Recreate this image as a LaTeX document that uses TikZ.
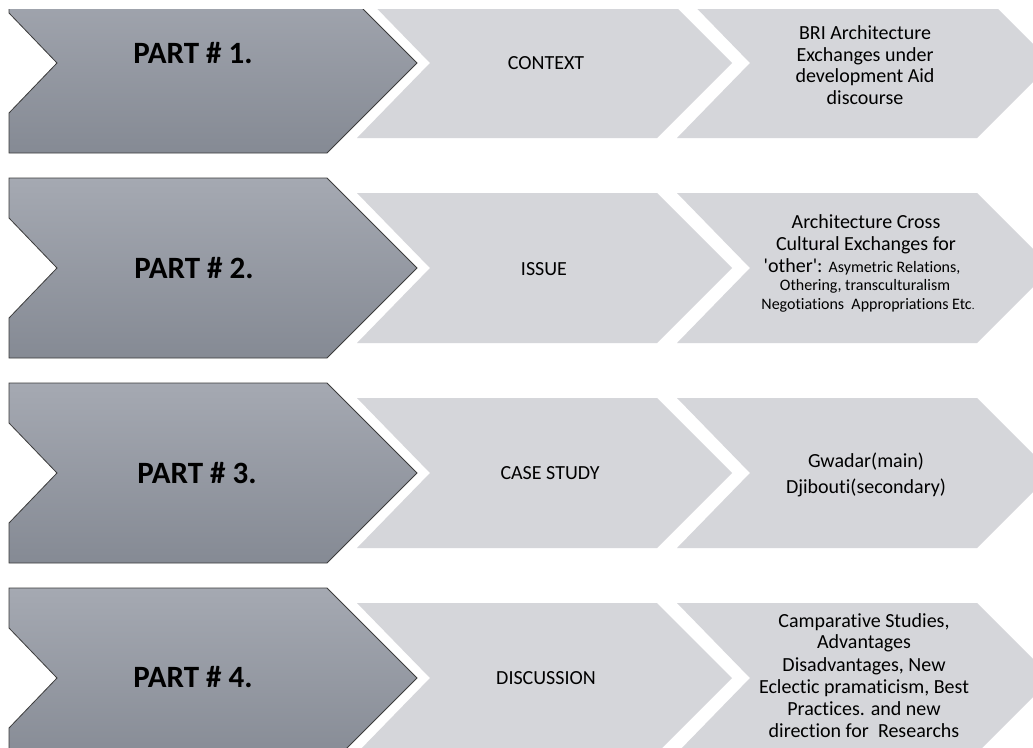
\documentclass[tikz,border=0pt]{standalone}
\usepackage{fontspec}
\newfontfamily\calfont[Ligatures=NoCommon]{Carlito}
\definecolor{darktop}{HTML}{A5A9B2}
\definecolor{darkbot}{HTML}{858A94}
\definecolor{lightfill}{HTML}{D5D6DA}
\definecolor{edgecol}{HTML}{3C3C3C}
\tikzset{
  partchev/.style={draw=edgecol, line width=0.8pt, line join=miter, top color=darktop, bottom color=darkbot},
  infochev/.style={fill=lightfill, draw=none},
  parttext/.style={font=\calfont\bfseries\fontsize{31}{36}\selectfont, anchor=base, inner sep=0pt},
  midtext/.style={font=\calfont\fontsize{20}{24}\selectfont, anchor=center, inner sep=0pt},
  ltext/.style={font=\calfont\fontsize{20}{24}\selectfont, anchor=base, inner sep=0pt},
  stext/.style={font=\calfont\fontsize{16}{19}\selectfont, anchor=base, inner sep=0pt},
}
\begin{document}
\begin{tikzpicture}[x=1pt, y=-1pt]
\useasboundingbox (0,0) rectangle (1033,747);
\fill[white] (0,0) rectangle (1033,747);
\begin{scope}
  \clip (0,9) rectangle (1033,747);
  \foreach \m in {63,268,473,678} {
    \path[infochev] (357,\m-75) -- (657,\m-75) -- (732,\m) -- (657,\m+75) -- (357,\m+75) -- (430,\m) -- cycle;
    \path[infochev] (677,\m-75) -- (977,\m-75) -- (1052,\m) -- (977,\m+75) -- (677,\m+75) -- (750,\m) -- cycle;
    \path[partchev] (9,\m-90) -- (327,\m-90) -- (417,\m) -- (327,\m+90) -- (9,\m+90) -- (9,\m+50) -- (57,\m) -- (9,\m-50) -- cycle;
  }
\end{scope}

% Part labels
\node[parttext] (p1) at (193,63)  {PART \# 1.};
\node[parttext] (p2) at (194,278) {PART \# 2.};
\node[parttext] (p3) at (197,483) {PART \# 3.};
\node[parttext] (p4) at (193,687) {PART \# 4.};

% Middle labels
\node[midtext] (c1) at (546,63)  {CONTEXT};
\node[midtext] (c2) at (544,269) {ISSUE};
\node[midtext] (c3) at (550,473) {CASE STUDY};
\node[midtext] (c4) at (546,678) {DISCUSSION};

% Right labels, row 1
\node[ltext] (r1a) at (865,39.5) {BRI Architecture};
\node[ltext] (r1b) at (865,61)   {Exchanges under};
\node[ltext] (r1c) at (865,82.5) {development Aid};
\node[ltext] (r1d) at (865,104)  {discourse};

% Right labels, row 2
\node[ltext] (r2a) at (866,228) {Architecture Cross};
\node[ltext] (r2b) at (866,250) {Cultural Exchanges for};
\node[ltext] (r2c) at (862,272) {'other': {\fontsize{16}{19}\selectfont Asymetric Relations,}};
\node[stext] (r2d) at (865,290) {Othering, transculturalism};
\node[stext] (r2e) at (868,309) {Negotiations~ Appropriations Etc{\fontsize{11}{13}\selectfont .}};

% Right labels, row 3
\node[ltext] (r3a) at (866,467) {Gwadar(main)};
\node[ltext] (r3b) at (866,493) {Djibouti(secondary)};

% Right labels, row 4
\node[ltext] (r4a) at (864,627) {Camparative Studies,};
\node[ltext] (r4b) at (864,648) {Advantages};
\node[ltext] (r4c) at (864,671) {Disadvantages, New};
\node[ltext] (r4d) at (864,693) {Eclectic pramaticism, Best};
\node[ltext] (r4e) at (864,715) {Practices. and new};
\node[ltext] (r4f) at (864,737) {direction for~ Researchs};
\end{tikzpicture}
\end{document}
